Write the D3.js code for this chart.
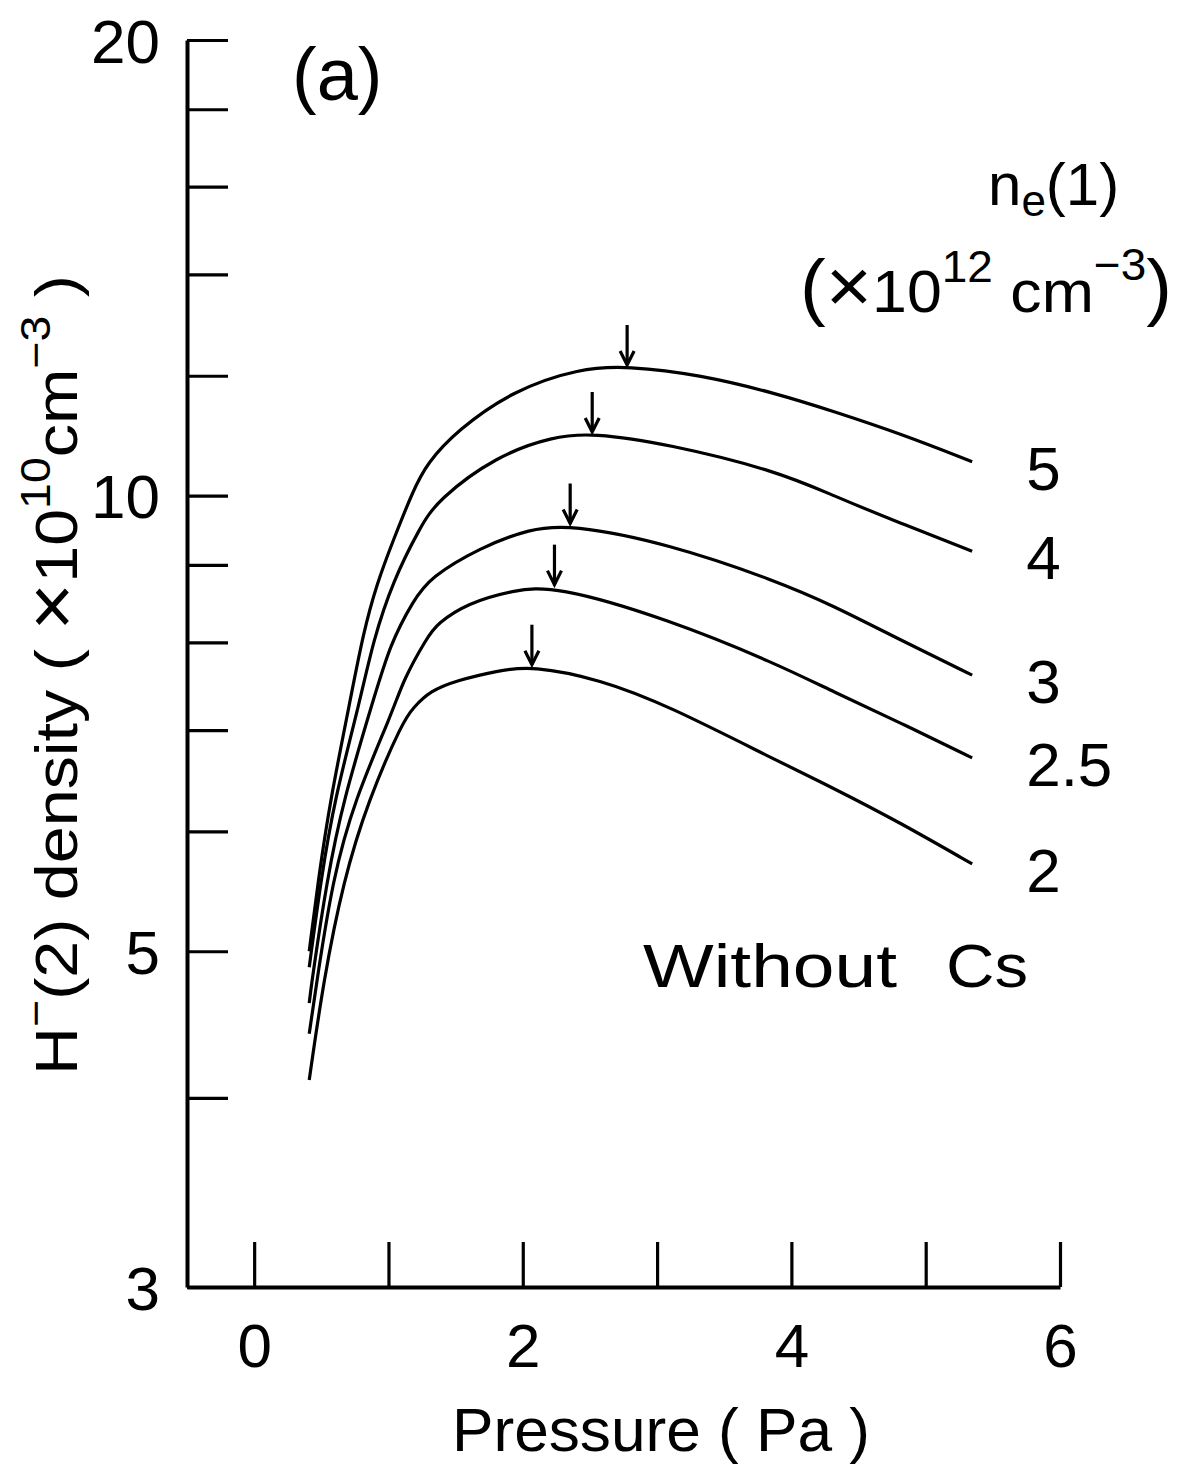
<!DOCTYPE html>
<html lang="en">
<head>
<meta charset="UTF-8">
<title>H- density vs pressure</title>
<style>
  body { margin: 0; background: #fff; }
  svg { display: block; }
  text { font-family: "Liberation Sans", Arial, Helvetica, sans-serif; fill: #000; }
</style>
</head>
<body>
<svg id="svg" width="1193" height="1472"></svg>
<script src="https://d3js.org/d3.v7.min.js"></script>
<script>
// n_e(1) for each curve (x10^12 cm^-3), top curve first
const neValues = ['5', '4', '3', '2.5', '2']

// [pressure (Pa), H-(2) density (x10^10 cm^-3)]
const curveNe5 = [[0.41, 5.00], [0.477, 5.57], [0.566, 6.29], [0.715, 7.32], [0.812, 8.11],
  [0.914, 8.75], [1.035, 9.34], [1.184, 10.08], [1.286, 10.50], [1.509, 11.04], [1.929, 11.74],
  [2.427, 12.14], [2.777, 12.18], [3.321, 12.02], [3.892, 11.68], [4.311, 11.37], [4.81, 10.99],
  [5.346, 10.53]]
const curveNe4 = [[0.41, 4.88], [0.497, 5.57], [0.596, 6.29], [0.789, 7.32], [0.886, 8.02],
  [1.035, 8.79], [1.236, 9.53], [1.363, 9.93], [1.809, 10.63], [2.226, 10.94], [2.517, 11.0],
  [3.075, 10.82], [3.894, 10.38], [4.311, 10.0], [4.81, 9.59], [5.346, 9.19]]
const curveNe3 = [[0.41, 4.62], [0.43, 4.78], [0.541, 5.57], [0.663, 6.29], [0.886, 7.32],
  [1.013, 7.98], [1.184, 8.52], [1.31, 8.83], [1.683, 9.24], [2.055, 9.51], [2.353, 9.57],
  [3.075, 9.30], [3.894, 8.78], [4.311, 8.46], [4.81, 8.03], [5.346, 7.61]]
const curveNe25 = [[0.41, 4.41], [0.467, 4.78], [0.583, 5.57], [0.745, 6.29], [1.035, 7.21],
  [1.109, 7.55], [1.288, 8.06], [1.363, 8.23], [1.586, 8.49], [1.929, 8.66], [2.236, 8.72],
  [3.075, 8.29], [3.894, 7.74], [4.311, 7.42], [4.81, 7.08], [5.346, 6.71]]
const curveNe2 = [[0.41, 4.11], [0.516, 4.78], [0.665, 5.57], [0.849, 6.29], [1.109, 7.10],
  [1.184, 7.24], [1.31, 7.43], [1.512, 7.55], [1.809, 7.66], [2.068, 7.72], [2.576, 7.56],
  [3.075, 7.27], [3.894, 6.68], [4.311, 6.41], [4.81, 6.08], [5.346, 5.71]]

const curves = [curveNe5, curveNe4, curveNe3, curveNe25, curveNe2]

const yTicks = [3, 4, 5, 6, 7, 8, 9, 10, 12, 14, 16, 18, 20]
const yLabelled = [3, 5, 10, 20]
const xTicks = [0, 1, 2, 3, 4, 5, 6]
const xLabelled = [0, 2, 4, 6]

const svg = d3.select('#svg')

const x = d3.scaleLinear().domain([-0.5, 6]).range([187, 1060])
const y = d3.scaleLog().domain([3, 20]).range([1287, 40])

// axes: only left and bottom, ticks pointing inward
const yAxis = svg.append('g')
  .attr('transform', `translate(${x(-0.5)},0)`)
  .call(d3.axisLeft(y)
    .tickValues(yTicks)
    .tickSizeInner(-41)
    .tickSizeOuter(0)
    .tickPadding(27)
    .tickFormat(d => yLabelled.includes(d) ? d : ''))

const xAxis = svg.append('g')
  .attr('transform', `translate(0,${y(3)})`)
  .call(d3.axisBottom(x)
    .tickValues(xTicks)
    .tickSizeInner(-45)
    .tickSizeOuter(0)
    .tickPadding(36)
    .tickFormat(d => xLabelled.includes(d) ? d : ''))

;[yAxis, xAxis].forEach(g => {
  g.attr('font-size', null).attr('font-family', null)
  g.select('.domain').attr('stroke', '#000').attr('stroke-width', 4)
  g.selectAll('.tick line').attr('stroke', '#000').attr('stroke-width', 3.2)
  g.selectAll('.tick text').attr('font-size', 62).attr('fill', '#000')
})
yAxis.selectAll('.tick text').attr('dy', '0.36em')

// curves (basis spline smooths the hand-read points)
const line = d3.line()
  .x(d => x(d[0]))
  .y(d => y(d[1]))
  .curve(d3.curveBasis)

svg.append('g')
  .selectAll('path')
  .data(curves)
  .join('path')
  .attr('d', line)
  .attr('fill', 'none')
  .attr('stroke', '#000')
  .attr('stroke-width', 3.2)

// arrows marking each maximum
curves.forEach(c => {
  const peak = d3.greatest(c, d => d[1])
  const tx = x(peak[0])
  const ty = y(peak[1]) - 1
  svg.append('line')
    .attr('x1', tx).attr('x2', tx)
    .attr('y1', ty - 40).attr('y2', ty)
    .attr('stroke', '#000').attr('stroke-width', 3.2)
  svg.append('path')
    .attr('d', `M${tx - 7},${ty - 14}L${tx},${ty}L${tx + 7},${ty - 14}`)
    .attr('fill', 'none').attr('stroke', '#000').attr('stroke-width', 3.2)
})

// n_e labels at the right end of each curve
svg.append('g')
  .selectAll('text')
  .data(curves)
  .join('text')
  .attr('x', d => x(d[d.length - 1][0]) + 54)
  .attr('y', d => y(d[d.length - 1][1]) + 28)
  .attr('font-size', 62)
  .text((d, i) => neValues[i])

// legend title
const t1 = svg.append('text').attr('x', 988).attr('y', 205).attr('font-size', 60)
t1.append('tspan').text('n')
t1.append('tspan').attr('font-size', 44).attr('dy', 11).text('e')
t1.append('tspan').attr('dy', -11).text('(1)')

const t2 = svg.append('text').attr('x', 800).attr('y', 312).attr('font-size', 60)
  .attr('textLength', 372).attr('lengthAdjust', 'spacingAndGlyphs')
t2.append('tspan').attr('font-size', 74).text('(')
t2.append('tspan').attr('font-size', 76).text('×')
t2.append('tspan').text('10')
t2.append('tspan').attr('font-size', 44).attr('dy', -30).text('12')
t2.append('tspan').attr('dy', 30).text(' cm')
t2.append('tspan').attr('font-size', 44).attr('dy', -32).text('−3')
t2.append('tspan').attr('font-size', 74).attr('dy', 32).text(')')

// panel tag and annotation
svg.append('text').attr('x', 292).attr('y', 100).attr('font-size', 74).text('(a)')

svg.append('text').attr('x', 643).attr('y', 987).attr('font-size', 62)
  .attr('textLength', 254).attr('lengthAdjust', 'spacingAndGlyphs').text('Without')
svg.append('text').attr('x', 946).attr('y', 987).attr('font-size', 62)
  .attr('textLength', 82).attr('lengthAdjust', 'spacingAndGlyphs').text('Cs')

// axis titles
svg.append('text')
  .attr('x', 661).attr('y', 1451)
  .attr('text-anchor', 'middle')
  .attr('font-size', 61)
  .attr('textLength', 418).attr('lengthAdjust', 'spacingAndGlyphs')
  .text('Pressure ( Pa )')

const yl = svg.append('text')
  .attr('transform', 'translate(77,675) rotate(-90)')
  .attr('text-anchor', 'middle')
  .attr('font-size', 60)
  .attr('textLength', 800).attr('lengthAdjust', 'spacingAndGlyphs')
yl.append('tspan').text('H')
yl.append('tspan').attr('font-size', 42).attr('dy', -27).text('−')
yl.append('tspan').attr('dy', 27).text('(2) density ( ')
yl.append('tspan').attr('font-size', 74).text('×')
yl.append('tspan').text('10')
yl.append('tspan').attr('font-size', 42).attr('dy', -27).text('10')
yl.append('tspan').attr('dy', 27).text('cm')
yl.append('tspan').attr('font-size', 42).attr('dy', -27).text('−3')
yl.append('tspan').attr('dy', 27).text(' )')
</script>
</body>
</html>
